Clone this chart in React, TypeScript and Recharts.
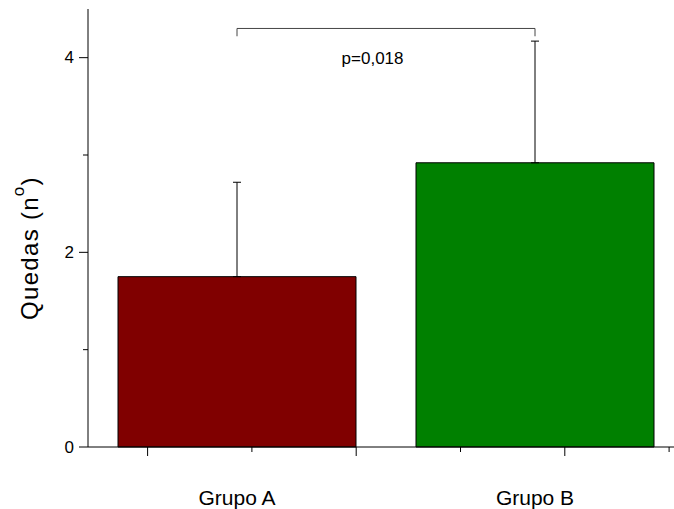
import { ComposedChart, Bar, Cell, ErrorBar, XAxis, YAxis, ReferenceLine, ReferenceDot } from "recharts";

const categories = ["Grupo A", "Grupo B"];
const categoryX = [1, 2];
const means = [1.75, 2.92];
const errors = [0.97, 1.25];
const colors = ["#800000", "#008000"];

const xMajorTicks = [0.7, 1.4, 2.1];
const xMinorTicks = [1.05, 1.75, 2.45];
const yMajorTicks = [0, 2, 4];
const yMinorTicks = [1, 3];

const bracketX = [1, 2];
const bracketTop = 4.3;
const bracketBottom = 4.22;
const pLabel = "p=0,018";
const pLabelX = 1.455;
const pLabelY = 4.0;

const data = categories.map((name, i) => ({
  x: categoryX[i],
  name,
  mean: means[i],
  err: [0, errors[i]],
}));

const FONT = "'Liberation Sans', Arial, sans-serif";

function YTick({ x, y, payload }: any) {
  const major = yMajorTicks.includes(payload.value);
  return (
    <g>
      <line x1={x - (major ? 9 : 5)} x2={x} y1={y} y2={y} stroke="#000" strokeWidth={1} />
      {major && (
        <text x={x - 14} y={y} textAnchor="end" dominantBaseline="central" fontSize={17} fontFamily={FONT} fill="#000">
          {payload.value}
        </text>
      )}
    </g>
  );
}

function XTick({ x, y, payload }: any) {
  const idx = categoryX.indexOf(payload.value);
  if (idx >= 0) {
    return (
      <text x={x} y={y + 50} textAnchor="middle" dominantBaseline="central" fontSize={21} fontFamily={FONT} fill="#000">
        {categories[idx]}
      </text>
    );
  }
  const major = xMajorTicks.includes(payload.value);
  return <line x1={x} x2={x} y1={y} y2={y + (major ? 9 : 5)} stroke="#000" strokeWidth={1} />;
}

function YTitle({ viewBox }: any) {
  const cx = 29;
  const cy = viewBox.y + viewBox.height / 2 + 20;
  return (
    <text
      x={cx}
      y={cy}
      transform={`rotate(-90 ${cx} ${cy})`}
      textAnchor="middle"
      dominantBaseline="central"
      fontSize={24}
      letterSpacing={1.3}
      fontFamily={FONT}
      fill="#000"
    >
      Quedas (n
      <tspan dy={-11} fontSize={17}>o</tspan>
      <tspan dy={11}>)</tspan>
    </text>
  );
}

export default function App() {
  const xTicks = [...xMajorTicks, ...xMinorTicks, ...categoryX].sort((a, b) => a - b);
  return (
    <div style={{ position: "fixed", left: 0, top: 0, width: 674, height: 509, overflow: "hidden", background: "#fff" }}>
      <ComposedChart width={690} height={509} data={data} margin={{ top: 9, right: 6, bottom: 0, left: 0 }}>
        <XAxis
          xAxisId="x"
          dataKey="x"
          type="number"
          domain={[0.5, 2.5]}
          ticks={xTicks}
          interval={0}
          tickSize={0}
          tickMargin={0}
          tickLine={false}
          tick={<XTick />}
          axisLine={{ stroke: "#000", strokeWidth: 1 }}
          height={62}
        />
        <XAxis
          xAxisId="top"
          orientation="top"
          type="number"
          domain={[0.5, 2.5]}
          tick={false}
          tickLine={false}
          axisLine={{ stroke: "#000", strokeWidth: 1 }}
          height={0}
        />
        <YAxis
          yAxisId="y"
          type="number"
          domain={[0, 4.5]}
          ticks={[...yMajorTicks, ...yMinorTicks].sort((a, b) => a - b)}
          interval={0}
          tickSize={0}
          tickMargin={0}
          tickLine={false}
          tick={<YTick />}
          axisLine={{ stroke: "#000", strokeWidth: 1 }}
          width={88}
          label={<YTitle />}
        />
        <Bar xAxisId="x" yAxisId="y" dataKey="mean" barSize={238} stroke="#000" strokeWidth={1} isAnimationActive={false}>
          {data.map((d, i) => (
            <Cell key={d.name} fill={colors[i]} />
          ))}
          <ErrorBar dataKey="err" direction="y" width={4} stroke="#000" strokeWidth={1} isAnimationActive={false} />
        </Bar>
        <ReferenceLine
          xAxisId="x"
          yAxisId="y"
          segment={[{ x: bracketX[0], y: bracketTop }, { x: bracketX[1], y: bracketTop }]}
          stroke="#444"
          strokeWidth={1}
          ifOverflow="visible"
        />
        <ReferenceLine
          xAxisId="x"
          yAxisId="y"
          segment={[{ x: bracketX[0], y: bracketTop }, { x: bracketX[0], y: bracketBottom }]}
          stroke="#444"
          strokeWidth={1}
          ifOverflow="visible"
        />
        <ReferenceLine
          xAxisId="x"
          yAxisId="y"
          segment={[{ x: bracketX[1], y: bracketTop }, { x: bracketX[1], y: bracketBottom }]}
          stroke="#444"
          strokeWidth={1}
          ifOverflow="visible"
        />
        <ReferenceDot
          xAxisId="x"
          yAxisId="y"
          x={pLabelX}
          y={pLabelY}
          r={0}
          fill="none"
          stroke="none"
          ifOverflow="visible"
          label={{ value: pLabel, position: "center", fontSize: 17, fontFamily: FONT, fill: "#000" }}
        />
      </ComposedChart>
    </div>
  );
}
